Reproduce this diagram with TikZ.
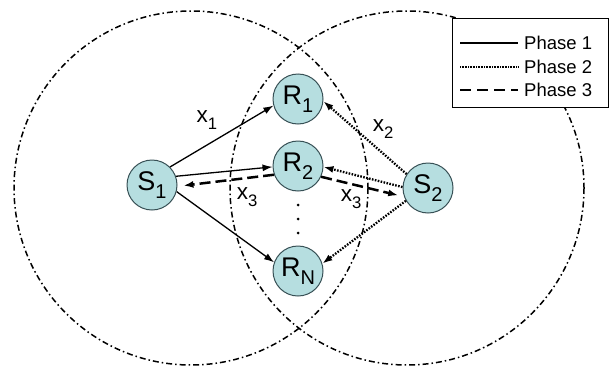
\documentclass[tikz,border=0pt]{standalone}
\usepackage{fontspec}
\usepackage{graphicx}
\setmainfont{Liberation Sans}
\definecolor{nodefill}{RGB}{182,222,224}
\definecolor{nodeline}{RGB}{55,80,85}
\newcommand{\subidx}[1]{\raisebox{-0.3em}{\scalebox{0.74}{#1}}}
\usetikzlibrary{arrows.meta,positioning}

\begin{document}
\begin{tikzpicture}[x=1pt,y=-1pt,
  station/.style={circle, draw=nodeline, fill=nodefill, line width=1pt, minimum size=50pt, inner sep=0pt, font=\fontsize{27}{29}\selectfont},
  lbl/.style={font=\fontsize{22.5}{24}\selectfont, inner sep=0pt},
  legtext/.style={font=\fontsize{18.5}{20}\selectfont, anchor=west, inner sep=0pt},
  coverage/.style={line width=1.5pt, dash pattern=on 6pt off 3pt on 1.5pt off 3pt},
  phaseone/.style={line width=1.3pt, -{Latex[length=10pt,width=7pt]}},
  phasetwo/.style={line width=2.3pt, dash pattern=on 1.6pt off 1.4pt, -{Latex[length=10pt,width=7pt]}},
  phasethree/.style={line width=2.5pt, dash pattern=on 11pt off 5pt, -{Latex[length=10pt,width=7pt]}, shorten >=6pt},
]
  \useasboundingbox (0,0) rectangle (609,367);

  %% Coverage ranges
  \draw[coverage] (191,188) circle[radius=177];
  \draw[coverage] (407,188) circle[radius=177];

  %% Sources and relays
  \node[station] (S1) at (152,185) {S\subidx{1}};
  \node[station] (S2) at (428,188) {S\subidx{2}};
  \node[station] (R1) at (298,99)  {R\subidx{1}};
  \node[station] (R2) at (298,166) {R\subidx{2}};
  \node[station] (RN) at (298,271) {R\subidx{N}};
  \foreach \y in {205,219,233}
    \fill (298,\y) circle[radius=1.5pt];

  %% Phase 1
  \draw[phaseone] (S1.45) -- (R1.195);
  \draw[phaseone] (S1.20) -- (R2.182);
  \draw[phaseone] (S1.-15) -- (RN.160);

  %% Phase 2
  \draw[phasetwo] (S2.147) -- (R1.-5);
  \draw[phasetwo] (S2.178) -- (R2.-2);
  \draw[phasetwo] (S2.210) -- (RN.17);

  %% Phase 3
  \draw[phasethree] (R2.200) -- (S1.-3);
  \draw[phasethree] (R2.-25) -- (S2.200);

  %% Labels
  \node[lbl] (lx1) at (207,120) {x\subidx{1}};
  \node[lbl] (lx2) at (383,129) {x\subidx{2}};
  \node[lbl] (lx3a) at (247,197) {x\subidx{3}};
  \node[lbl] (lx3b) at (351,199) {x\subidx{3}};

  %% Legend
  \draw[fill=white, line width=1pt] (452,18) rectangle (608.5,107);
  \node[legtext] (ph1) at (524,43) {Phase 1};
  \node[legtext] (ph2) at (524,67) {Phase 2};
  \node[legtext] (ph3) at (524,90) {Phase 3};
  \coordinate (k1) at (460,43);
  \coordinate (k2) at (460,67);
  \coordinate (k3) at (460,90);
  \draw[line width=1.5pt] (k1) -- ([xshift=-6pt]ph1.west);
  \draw[line width=1.2pt, dash pattern=on 0.8pt off 0.8pt] (k2) -- ([xshift=-6pt]ph2.west);
  \draw[line width=1.7pt, dash pattern=on 11pt off 6pt] (k3) -- ([xshift=-6pt]ph3.west);
\end{tikzpicture}
\end{document}
